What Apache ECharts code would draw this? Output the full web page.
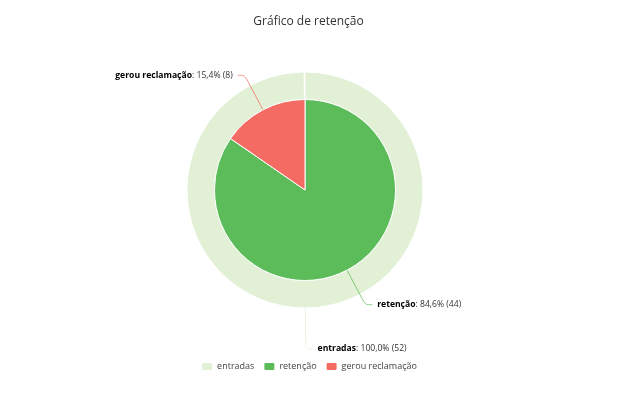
<!DOCTYPE html>
<html><head><meta charset="utf-8">
<script src="https://cdn.jsdelivr.net/npm/echarts@6/dist/echarts.min.js"></script>
<style>html,body{margin:0;padding:0;background:#fff}#c{width:617px;height:393px}</style>
</head><body><div id="c"></div>
<script>
const titleText = 'Gráfico de retenção';
const outerNames = ['entradas'];
const outerValues = [52];
const innerNames = ['retenção', 'gerou reclamação'];
const innerValues = [44, 8];
const colors = { 'entradas': '#e2f0d5', 'retenção': '#5cbc5a', 'gerou reclamação': '#f36b62' };
const FONT = 'Open Sans';

function fmt(p) {
  const pct = (p.percent).toFixed(1).replace('.', ',');
  return '{b|' + p.name + '}: ' + pct + '% (' + p.value + ')';
}
const labelCfg = {
  formatter: fmt,
  fontFamily: FONT, fontSize: 8.6, color: '#333',
  rich: { b: { fontWeight: 'bold', color: '#000', fontFamily: FONT, fontSize: 8.6 } }
};

const chart = echarts.init(document.getElementById('c'), null, { renderer: 'canvas' });
chart.setOption({
  animation: false,
  title: { text: titleText, left: 'center', top: 11,
    textStyle: { fontFamily: FONT, fontSize: 12, fontWeight: 'normal', color: '#333' } },
  legend: {
    bottom: 16, left: 'center', itemWidth: 12, itemHeight: 9, itemGap: 8,
    icon: 'roundRect',
    textStyle: { fontFamily: FONT, fontSize: 9, color: '#444', padding: [0, 0, 0, -1] },
    data: outerNames.concat(innerNames)
  },
  series: [
    {
      type: 'pie', z: 1, center: [305, 190], radius: [90.5, 118], startAngle: 90, endAngle: -269.6, clockwise: true,
      itemStyle: { borderColor: '#fff', borderWidth: 1 },
      label: labelCfg,
      labelLine: { length: 41, length2: 7, smooth: 0.3, lineStyle: { width: 1, opacity: 0.75 } },
      data: outerNames.map((n, i) => ({ name: n, value: outerValues[i], itemStyle: { color: colors[n] } }))
    },
    {
      type: 'pie', z: 3, center: [305, 190], radius: [0, 90.5], startAngle: 90, clockwise: true,
      itemStyle: { borderColor: '#fff', borderWidth: 1 },
      label: labelCfg,
      labelLine: { length: 39, length2: 7, smooth: 0.3, lineStyle: { width: 1, opacity: 0.75 } },
      data: innerNames.map((n, i) => ({ name: n, value: innerValues[i], itemStyle: { color: colors[n] } }))
    }
  ]
});
</script></body></html>
